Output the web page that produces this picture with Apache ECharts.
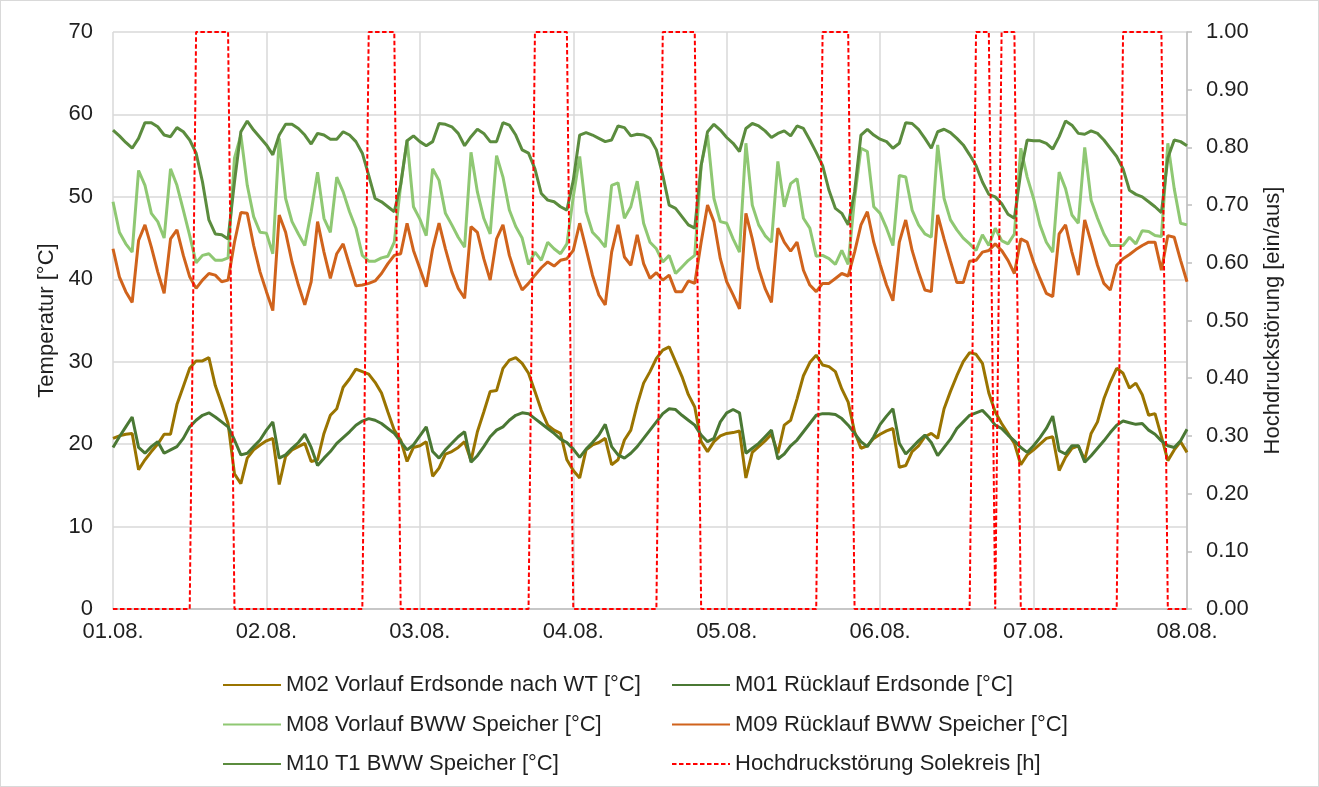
<!DOCTYPE html>
<html>
<head>
<meta charset="utf-8">
<title>Temperaturen Erdsonde / BWW Speicher</title>
<script src="https://cdn.jsdelivr.net/npm/echarts@6/dist/echarts.min.js"></script>
<style>
    html, body { margin: 0; padding: 0; background: #fff; }
    #chart {
        width: 1319px;
        height: 787px;
        box-sizing: border-box;
        border: 1px solid #d9d9d9;
    }
</style>
</head>
<body>
<div id="chart"></div>
<script>
// Tageslabels der x-Achse (alle 24 h)
const dayLabels = ['01.08.', '02.08.', '03.08.', '04.08.', '05.08.', '06.08.', '07.08.', '08.08.'];

// Stundenwerte 01.08. 00:00 bis 08.08. 00:00 (169 Werte je Reihe)
const m02Vorlauf = [
    20.7, 21.0, 21.2, 21.3, 16.9, 18.1, 19.1, 20.0, 21.2, 21.2, 24.8, 27.0, 29.2, 30.1, 30.1, 30.5, 27.1, 24.9, 22.5, 16.4, 15.2, 18.3, 19.3, 19.9,
    20.4, 20.7, 15.1, 18.5, 19.3, 19.7, 20.1, 17.9, 18.1, 21.3, 23.5, 24.3, 26.9, 27.9, 29.1, 28.8, 28.5, 27.5, 26.2, 23.9, 21.7, 20.5, 17.9, 19.6,
    19.8, 20.3, 16.1, 17.1, 18.8, 19.1, 19.6, 20.3, 18.0, 21.5, 23.9, 26.4, 26.5, 29.2, 30.2, 30.5, 29.8, 28.6, 26.4, 24.1, 22.3, 21.7, 21.3, 18.1,
    16.8, 15.9, 19.3, 19.9, 20.2, 20.7, 17.5, 18.1, 20.5, 21.7, 24.8, 27.4, 28.8, 30.4, 31.4, 31.8, 30.0, 28.2, 26.0, 24.5, 20.3, 19.1, 20.3, 21.0,
    21.3, 21.4, 21.6, 15.9, 19.0, 19.7, 20.4, 21.2, 18.9, 22.3, 22.9, 25.5, 28.3, 29.9, 30.8, 29.6, 29.4, 28.8, 26.7, 25.1, 21.5, 19.5, 19.8, 20.7,
    21.2, 21.6, 21.9, 17.2, 17.4, 19.1, 19.8, 20.9, 21.3, 20.7, 24.3, 26.4, 28.3, 30.0, 31.1, 30.9, 29.8, 26.2, 23.9, 22.5, 21.3, 20.1, 17.5, 18.7,
    19.3, 20.0, 20.7, 20.9, 16.8, 18.4, 19.5, 19.8, 18.1, 21.3, 22.7, 25.5, 27.5, 29.2, 28.6, 26.8, 27.4, 26.0, 23.5, 23.7, 20.9, 18.0, 19.3, 20.3,
    19.0
];

const m01Ruecklauf = [
    19.6, 20.9, 22.1, 23.3, 19.6, 18.9, 19.7, 20.3, 18.9, 19.3, 19.7, 20.7, 22.1, 22.9, 23.5, 23.8, 23.3, 22.7, 22.1, 20.5, 18.7, 18.9, 19.7, 20.5,
    21.7, 22.7, 18.3, 18.7, 19.5, 20.2, 21.2, 19.6, 17.4, 18.3, 19.1, 20.1, 20.8, 21.5, 22.3, 22.8, 23.1, 22.9, 22.5, 21.9, 21.3, 20.3, 19.3, 19.9,
    21.0, 22.1, 19.1, 18.3, 19.3, 20.1, 20.9, 21.5, 17.8, 18.6, 19.7, 20.9, 21.7, 22.1, 22.9, 23.5, 23.8, 23.7, 23.1, 22.5, 21.9, 21.3, 20.6, 20.2,
    19.4, 18.4, 19.4, 20.2, 21.1, 22.4, 19.7, 18.7, 18.3, 18.9, 19.7, 20.7, 21.7, 22.7, 23.7, 24.3, 24.2, 23.5, 22.9, 22.3, 21.1, 20.3, 20.7, 22.7,
    23.8, 24.2, 23.8, 18.9, 19.5, 20.1, 20.9, 21.7, 18.2, 18.8, 19.8, 20.5, 21.5, 22.5, 23.5, 23.7, 23.7, 23.6, 23.1, 22.3, 21.3, 20.3, 19.7, 20.9,
    22.4, 23.4, 24.3, 20.1, 18.8, 19.6, 20.4, 21.1, 20.2, 18.6, 19.6, 20.6, 21.9, 22.7, 23.5, 23.8, 24.1, 23.3, 22.3, 21.9, 21.1, 20.4, 19.6, 19.0,
    19.8, 20.8, 21.9, 23.4, 19.2, 18.8, 19.8, 19.8, 17.8, 18.6, 19.5, 20.4, 21.4, 22.3, 22.8, 22.6, 22.4, 22.5, 21.7, 21.2, 20.4, 19.8, 19.6, 20.4,
    21.8
];

const m08Vorlauf = [
    49.4, 45.7, 44.3, 43.3, 53.2, 51.4, 48.0, 47.0, 45.0, 53.4, 51.4, 48.4, 45.3, 42.0, 42.9, 43.1, 42.3, 42.3, 42.6, 54.7, 57.5, 51.4, 47.6, 45.7,
    45.6, 43.1, 57.1, 49.8, 47.0, 45.5, 44.1, 48.2, 53.0, 47.4, 45.7, 52.4, 50.6, 48.2, 46.2, 42.9, 42.2, 42.2, 42.6, 42.8, 44.5, 51.4, 56.9, 48.8,
    47.3, 45.3, 53.4, 52.0, 48.0, 46.6, 45.1, 43.9, 55.4, 50.6, 47.4, 45.5, 55.0, 52.4, 48.4, 46.4, 45.0, 41.8, 43.3, 42.3, 44.5, 43.7, 43.1, 44.3,
    50.0, 54.9, 48.2, 45.7, 44.9, 43.9, 51.4, 51.7, 47.4, 48.8, 51.9, 46.8, 44.5, 43.7, 42.1, 42.9, 40.7, 41.5, 42.3, 42.9, 53.8, 57.5, 49.8, 47.0,
    46.8, 44.9, 43.3, 56.5, 49.0, 46.6, 45.3, 44.5, 54.3, 48.8, 51.6, 52.2, 47.4, 46.2, 42.8, 42.9, 42.5, 41.8, 43.5, 41.8, 49.8, 55.9, 55.5, 48.8,
    48.0, 46.2, 44.1, 52.6, 52.4, 48.4, 46.6, 45.5, 45.1, 56.3, 49.8, 47.2, 46.0, 45.0, 44.3, 43.5, 45.4, 44.1, 46.2, 44.7, 44.3, 45.5, 55.9, 52.4,
    49.8, 46.6, 44.5, 43.3, 53.0, 51.0, 47.8, 46.8, 56.0, 49.6, 47.4, 45.5, 44.1, 44.1, 44.1, 45.1, 44.3, 45.9, 45.8, 45.3, 45.2, 56.5, 51.0, 46.8,
    46.6
];

const m09Ruecklauf = [
    43.7, 40.3, 38.5, 37.2, 44.7, 46.6, 43.9, 40.9, 38.3, 44.9, 46.0, 42.9, 40.3, 38.9, 39.9, 40.7, 40.5, 39.7, 39.9, 44.5, 48.1, 48.0, 44.1, 40.9,
    38.5, 36.2, 47.8, 45.7, 42.1, 39.3, 36.9, 39.7, 47.0, 43.3, 40.1, 43.1, 44.3, 41.7, 39.2, 39.3, 39.5, 39.8, 40.7, 41.9, 42.9, 43.1, 46.8, 43.5,
    41.3, 39.1, 43.7, 46.8, 43.7, 40.9, 38.9, 37.7, 46.4, 45.7, 42.5, 39.9, 44.9, 46.6, 42.9, 40.5, 38.7, 39.5, 40.5, 41.4, 42.1, 41.6, 42.3, 42.5,
    43.5, 46.8, 43.7, 40.5, 38.1, 36.9, 43.3, 46.6, 42.7, 41.7, 45.4, 41.9, 40.1, 40.8, 39.9, 40.5, 38.5, 38.5, 39.8, 39.5, 44.5, 49.0, 47.0, 42.5,
    39.7, 38.1, 36.4, 48.0, 44.9, 41.3, 38.9, 37.2, 46.2, 44.5, 43.4, 44.5, 41.1, 39.3, 38.5, 39.5, 39.5, 40.1, 40.7, 40.4, 43.3, 46.6, 48.2, 44.5,
    41.8, 39.3, 37.4, 44.5, 47.2, 43.5, 40.9, 38.7, 38.5, 47.8, 44.9, 42.2, 39.6, 39.6, 42.2, 42.3, 43.3, 43.5, 44.3, 43.5, 42.3, 40.7, 44.9, 44.5,
    42.1, 40.1, 38.3, 37.9, 45.5, 46.6, 43.3, 40.5, 47.2, 44.5, 41.7, 39.5, 38.7, 41.7, 42.5, 43.0, 43.6, 44.1, 44.5, 44.5, 41.1, 45.3, 45.1, 42.3,
    39.7
];

const m10Speicher = [
    58.1, 57.4, 56.6, 55.9, 57.1, 59.0, 59.0, 58.5, 57.5, 57.3, 58.4, 57.9, 56.9, 55.3, 51.8, 47.2, 45.5, 45.4, 44.9, 51.8, 57.9, 59.2, 58.1, 57.2,
    56.3, 55.1, 57.5, 58.8, 58.8, 58.3, 57.5, 56.4, 57.7, 57.5, 57.0, 57.0, 57.9, 57.5, 56.7, 55.3, 52.6, 49.8, 49.4, 48.8, 48.2, 51.5, 56.8, 57.4,
    56.7, 56.2, 56.7, 58.9, 58.8, 58.5, 57.7, 56.2, 57.3, 58.2, 57.7, 56.7, 56.7, 59.0, 58.7, 57.5, 55.7, 55.3, 53.4, 50.4, 49.6, 49.4, 48.8, 48.4,
    52.0, 57.5, 57.8, 57.5, 57.1, 56.7, 56.9, 58.6, 58.4, 57.4, 57.6, 57.5, 57.1, 55.7, 52.6, 49.0, 48.6, 47.6, 46.6, 46.2, 53.8, 57.9, 58.8, 58.1,
    57.2, 56.5, 55.5, 58.3, 58.9, 58.6, 58.0, 57.2, 57.7, 58.0, 57.4, 58.6, 58.3, 56.9, 55.4, 53.8, 50.8, 48.6, 48.0, 46.6, 50.6, 57.5, 58.2, 57.5,
    57.0, 56.7, 55.9, 56.5, 59.0, 58.9, 58.2, 57.1, 55.9, 57.9, 58.2, 57.8, 57.1, 56.3, 55.1, 53.8, 51.8, 50.3, 50.0, 49.2, 47.9, 47.4, 53.0, 56.9,
    56.8, 56.8, 56.5, 55.8, 57.3, 59.2, 58.7, 57.7, 57.6, 58.0, 57.7, 56.9, 55.9, 54.9, 53.4, 50.8, 50.3, 50.0, 49.4, 48.8, 48.1, 54.7, 56.9, 56.7,
    56.2
];

// Hochdruckstörung Solekreis (ein = 1 / aus = 0)
const hdStoerung = [
    0, 0, 0, 0, 0, 0, 0, 0, 0, 0, 0, 0, 0, 1, 1, 1, 1, 1, 1, 0, 0, 0, 0, 0,
    0, 0, 0, 0, 0, 0, 0, 0, 0, 0, 0, 0, 0, 0, 0, 0, 1, 1, 1, 1, 1, 0, 0, 0,
    0, 0, 0, 0, 0, 0, 0, 0, 0, 0, 0, 0, 0, 0, 0, 0, 0, 0, 1, 1, 1, 1, 1, 1,
    0, 0, 0, 0, 0, 0, 0, 0, 0, 0, 0, 0, 0, 0, 1, 1, 1, 1, 1, 1, 0, 0, 0, 0,
    0, 0, 0, 0, 0, 0, 0, 0, 0, 0, 0, 0, 0, 0, 0, 1, 1, 1, 1, 1, 0, 0, 0, 0,
    0, 0, 0, 0, 0, 0, 0, 0, 0, 0, 0, 0, 0, 0, 0, 1, 1, 1, 0, 1, 1, 1, 0, 0,
    0, 0, 0, 0, 0, 0, 0, 0, 0, 0, 0, 0, 0, 0, 1, 1, 1, 1, 1, 1, 1, 0, 0, 0,
    0
];

const FONT = "'Liberation Sans', Arial, sans-serif";
const TEXT_COLOR = '#1f1f1f';
const GRID_COLOR = '#d9d9d9';

// Stundenindex als x-Wert
function toPoints(values) {
    return values.map((v, i) => [i, v]);
}

function lineSeries(name, values, color, yAxisIndex, dashed) {
    return {
        name: name,
        type: 'line',
        yAxisIndex: yAxisIndex,
        data: toPoints(values),
        symbol: 'none',
        smooth: false,
        lineStyle: {
            color: color,
            width: dashed ? 2 : 3,
            type: dashed ? [4.5, 2.5] : 'solid'
        },
        itemStyle: { color: color }
    };
}

const chart = echarts.init(document.getElementById('chart'));

const legendText = {
    color: TEXT_COLOR,
    fontSize: 22,
    fontFamily: FONT,
    lineHeight: 22
};

// Legende: nur Linie, ohne Kreis-Symbol
const legendBase = {
    orient: 'vertical',
    top: 668,
    itemWidth: 58,
    itemHeight: 14,
    itemGap: 17.5,
    itemStyle: { opacity: 0 },
    textStyle: legendText
};

chart.setOption({
    animation: false,
    textStyle: { fontFamily: FONT },
    grid: {
        left: 112,
        right: 131,
        top: 31,
        bottom: 177
    },
    legend: [
        Object.assign({}, legendBase, {
            left: 216,
            data: ['M02 Vorlauf Erdsonde nach WT [°C]', 'M08 Vorlauf BWW Speicher [°C]', 'M10 T1 BWW Speicher [°C]']
        }),
        Object.assign({}, legendBase, {
            left: 665,
            data: ['M01 Rücklauf Erdsonde [°C]', 'M09 Rücklauf BWW Speicher [°C]', 'Hochdruckstörung Solekreis [h]']
        })
    ],
    xAxis: {
        type: 'value',
        min: 0,
        max: 168,
        interval: 24,
        axisLine: { show: true, lineStyle: { color: '#bfbfbf', width: 1.5 } },
        axisTick: { show: false },
        axisLabel: {
            color: TEXT_COLOR,
            fontSize: 22,
            fontFamily: FONT,
            margin: 12,
            formatter: function (v) { return dayLabels[Math.round(v / 24)]; }
        },
        splitLine: { show: true, lineStyle: { color: GRID_COLOR, width: 1.5 } }
    },
    yAxis: [
        {
            type: 'value',
            min: 0,
            max: 70,
            interval: 10,
            name: 'Temperatur [°C]',
            nameLocation: 'middle',
            nameRotate: 90,
            nameGap: 55,
            nameTextStyle: { color: TEXT_COLOR, fontSize: 22, fontFamily: FONT },
            axisLine: { show: false },
            axisTick: { show: false },
            axisLabel: { color: TEXT_COLOR, fontSize: 22, fontFamily: FONT, margin: 20 },
            splitLine: { show: true, lineStyle: { color: GRID_COLOR, width: 1.5 } }
        },
        {
            type: 'value',
            min: 0,
            max: 1,
            interval: 0.1,
            position: 'right',
            name: 'Hochdruckstörung [ein/aus]',
            nameLocation: 'middle',
            nameRotate: 90,
            nameGap: 75,
            nameTextStyle: { color: TEXT_COLOR, fontSize: 22, fontFamily: FONT },
            axisLine: { show: true, lineStyle: { color: '#bfbfbf', width: 1.5 } },
            axisTick: { show: true, inside: false, length: 5, lineStyle: { color: '#bfbfbf', width: 1.5 } },
            axisLabel: {
                color: TEXT_COLOR,
                fontSize: 22,
                fontFamily: FONT,
                margin: 19,
                formatter: function (v) { return v.toFixed(2); }
            },
            splitLine: { show: false }
        }
    ],
    series: [
        lineSeries('M02 Vorlauf Erdsonde nach WT [°C]', m02Vorlauf, '#9a7400', 0, false),
        lineSeries('M01 Rücklauf Erdsonde [°C]', m01Ruecklauf, '#4a7834', 0, false),
        lineSeries('M08 Vorlauf BWW Speicher [°C]', m08Vorlauf, '#8fc873', 0, false),
        lineSeries('M09 Rücklauf BWW Speicher [°C]', m09Ruecklauf, '#d0631c', 0, false),
        lineSeries('M10 T1 BWW Speicher [°C]', m10Speicher, '#5b8c3e', 0, false),
        lineSeries('Hochdruckstörung Solekreis [h]', hdStoerung, '#ff0000', 1, true)
    ]
});

window.addEventListener('resize', function () {
    chart.resize();
});
</script>
</body>
</html>
